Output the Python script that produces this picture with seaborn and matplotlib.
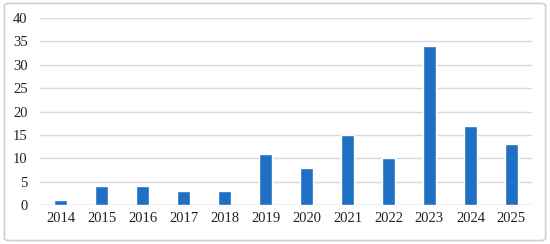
import matplotlib
matplotlib.use("Agg")
import matplotlib.pyplot as plt
import seaborn as sns
import pandas as pd
from matplotlib.patches import FancyBboxPatch

years = ["2014", "2015", "2016", "2017", "2018", "2019", "2020", "2021", "2022", "2023", "2024", "2025"]
counts = [1, 4, 4, 3, 3, 11, 8, 15, 10, 34, 17, 13]
yticks = [0, 5, 10, 15, 20, 25, 30, 35, 40]

df = pd.DataFrame({"year": years, "count": counts})

sns.set_theme(style="white")
plt.rcParams["font.family"] = ["Liberation Serif", "DejaVu Serif"]

fig = plt.figure(figsize=(5.5, 2.44), dpi=100)
ax = fig.add_axes([0.073, 0.16, 0.894, 0.766])

sns.barplot(data=df, x="year", y="count", color="#1f6fc4", width=0.31,
            saturation=1, ax=ax, zorder=3)

ax.set_ylim(0, 40)
ax.set_xlim(-0.5, 11.5)
ax.set_yticks(yticks)
ax.set_yticklabels([str(v) for v in yticks])
ax.yaxis.grid(True, color="#d9d9d9", linewidth=1, zorder=0)
ax.set_axisbelow(True)
for s in ax.spines.values():
    s.set_visible(False)
ax.axhline(0, color="#d9d9d9", linewidth=1, zorder=1)
ax.set_xlabel("")
ax.set_ylabel("")
ax.tick_params(axis="both", length=0, labelsize=10.5, colors="#222222")
ax.tick_params(axis="x", pad=5)
ax.tick_params(axis="y", pad=9)

border = FancyBboxPatch((0.008, 0.014), 0.984, 0.972, boxstyle="round,pad=0,rounding_size=0.01",
                        transform=fig.transFigure, fill=False, edgecolor="#d0d0d0", linewidth=1.2)
fig.patches.append(border)

fig.savefig("out.png", dpi=100)
